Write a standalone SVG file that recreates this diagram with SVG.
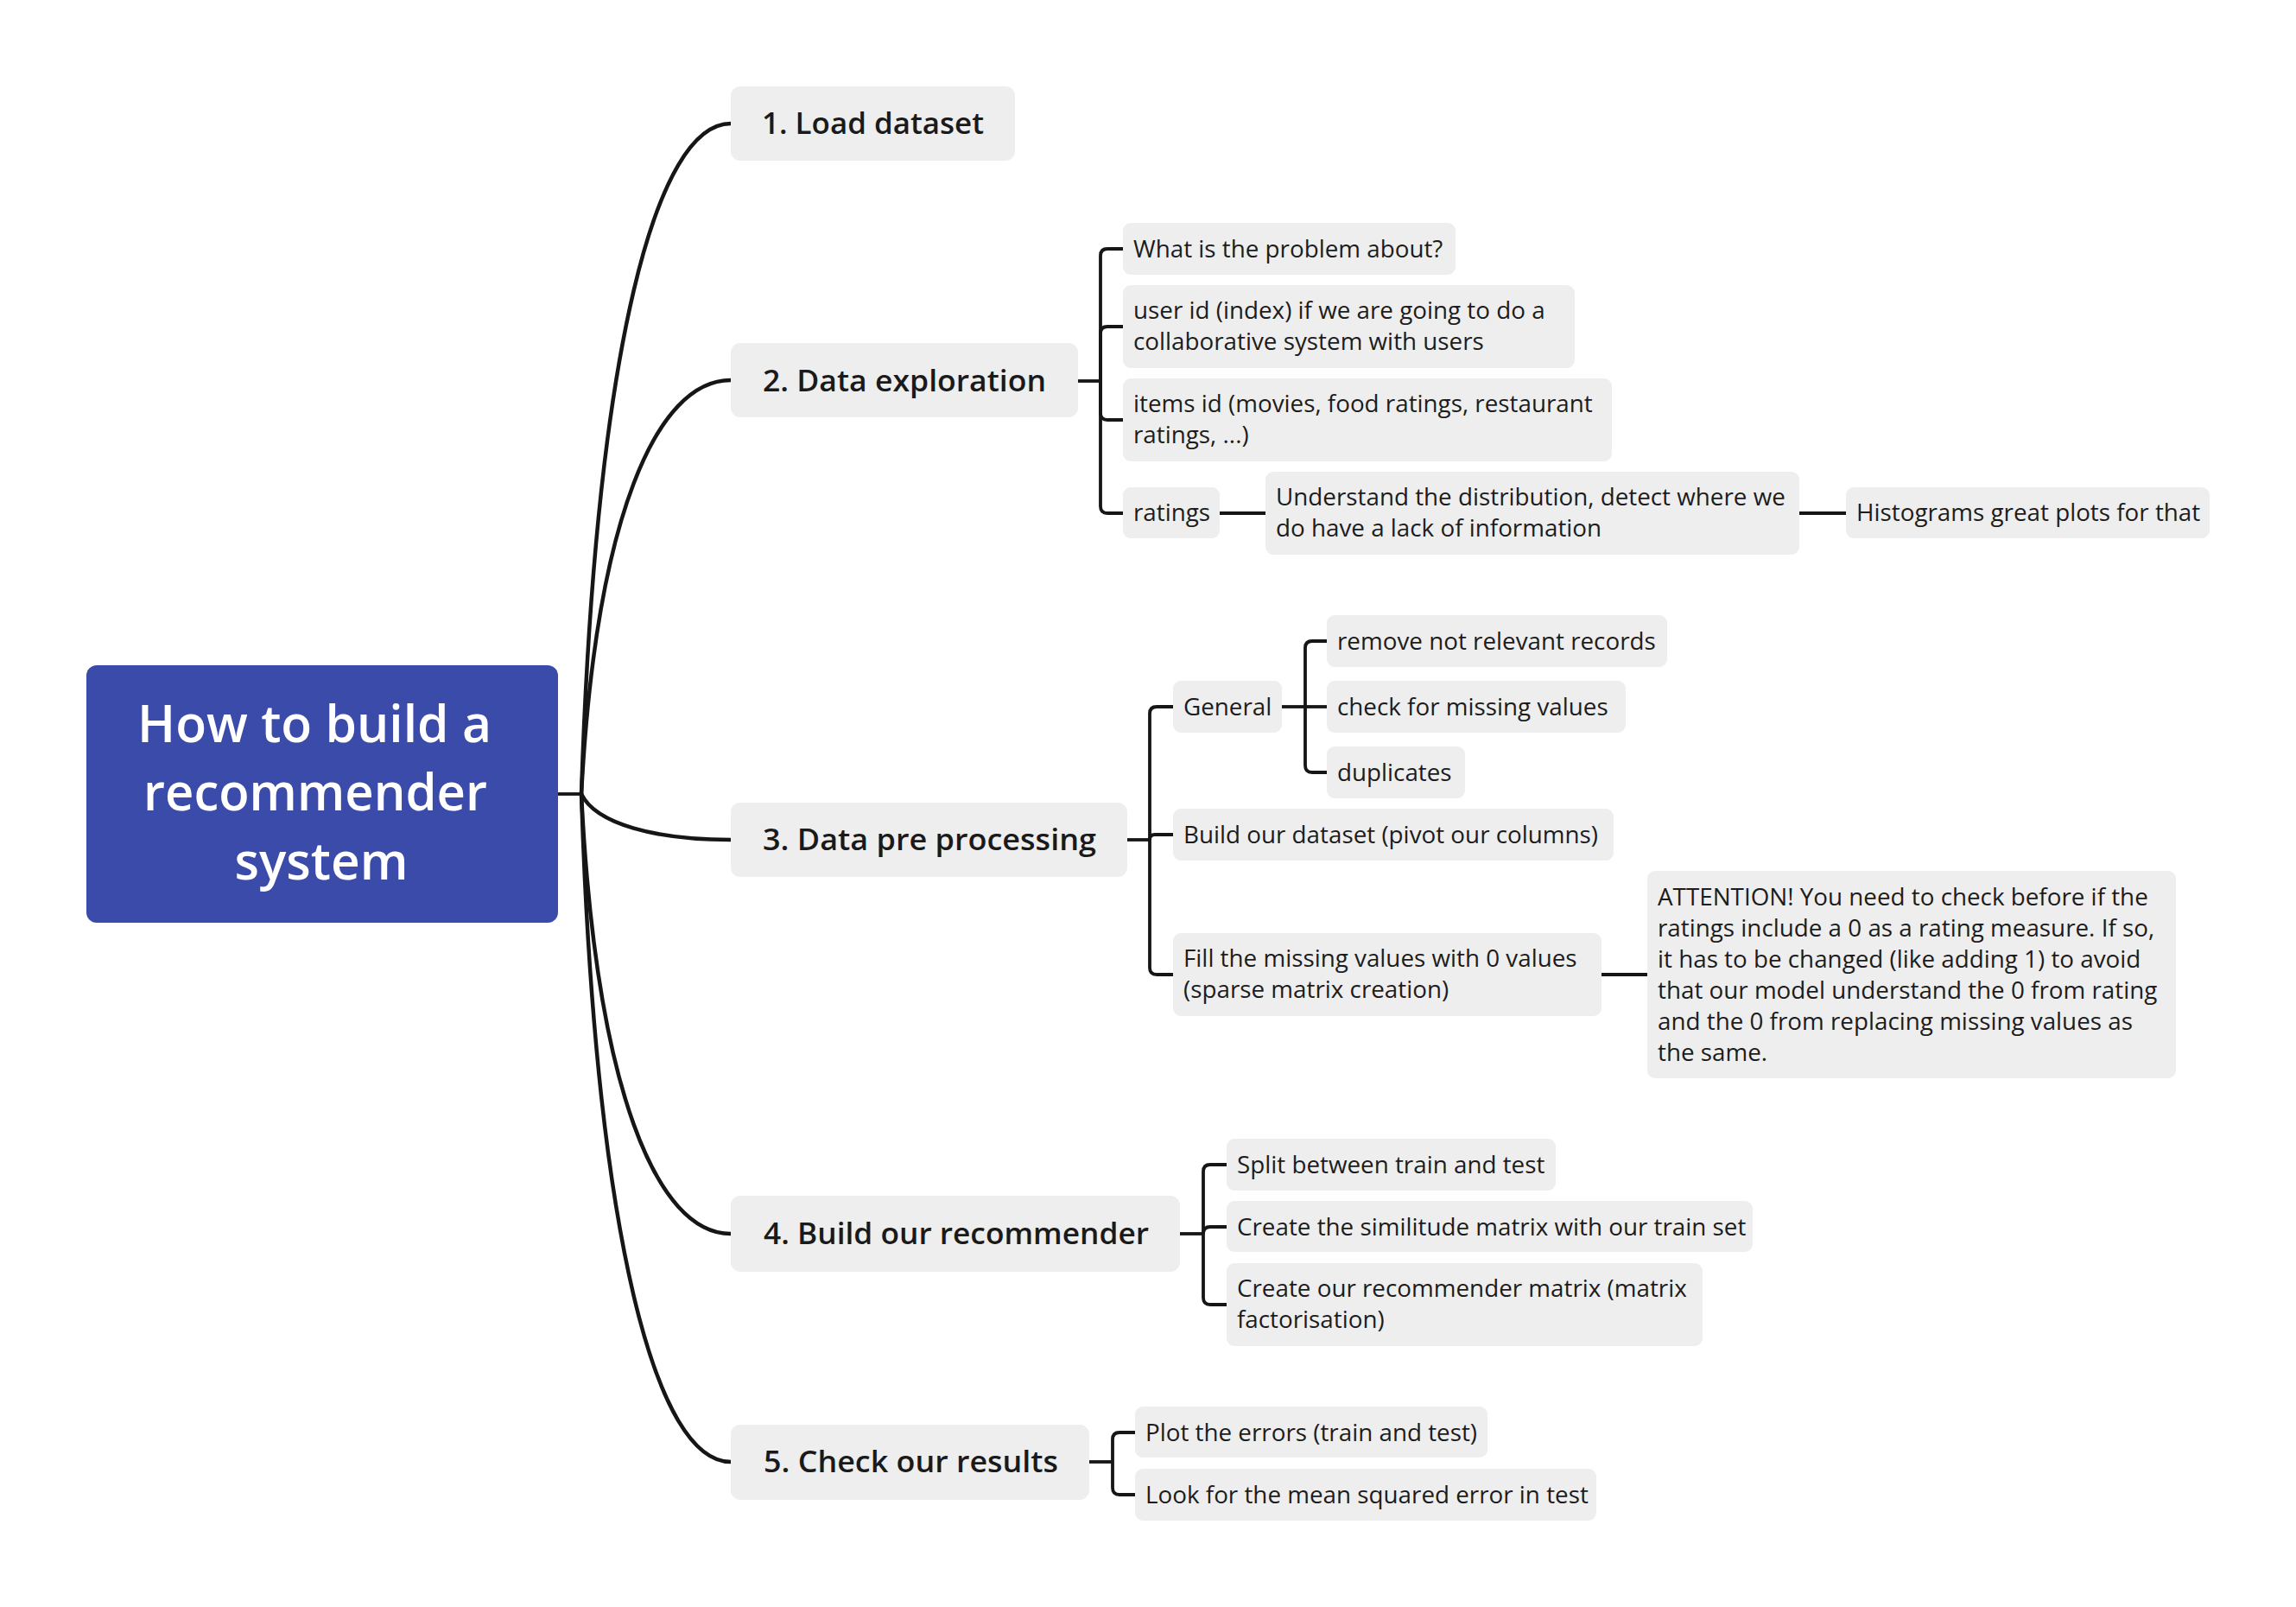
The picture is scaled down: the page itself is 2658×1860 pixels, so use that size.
<svg xmlns="http://www.w3.org/2000/svg" width="2658" height="1860" viewBox="0 0 2658 1860">
<style>
.root{fill:#3B4BAA}
.main{fill:#EEEEEE}
.sub{fill:#EEEEEE}
.rt{font-family:"Open Sans","Noto Sans","Liberation Sans",sans-serif;font-size:60px;font-weight:600;fill:#FFFFFF;text-anchor:middle}
.mt{font-family:"Open Sans","Noto Sans","Liberation Sans",sans-serif;font-size:35px;font-weight:600;fill:#1A1A1A}
.st{font-family:"Open Sans","Noto Sans","Liberation Sans",sans-serif;font-size:27.8px;fill:#1C1C1C}
.c{fill:none;stroke:#161616;stroke-width:4.5;stroke-linecap:round}
.b{fill:none;stroke:#161616;stroke-width:3.8}
</style>
<rect width="2658" height="1860" fill="#FFFFFF"/>
<g id="connectors">
<path class="b" d="M646,919 H673"/>
<path class="c" d="M673,919 C690,400 760,143 846,143"/>
<path class="c" d="M673,919 C690,599 760,440 846,440"/>
<path class="c" d="M673,919 C690,954 760,972 846,972"/>
<path class="c" d="M673,919 C690,1260 760,1428 846,1428"/>
<path class="c" d="M673,919 C690,1437 760,1692 846,1692"/>
<path class="b" d="M1248,441 H1274"/>
<path class="b" d="M1274,441 V296 Q1274,288 1282,288 H1300"/>
<path class="b" d="M1274,441 V386 Q1274,378 1282,378 H1300"/>
<path class="b" d="M1274,441 V478 Q1274,486 1282,486 H1300"/>
<path class="b" d="M1274,441 V586 Q1274,594 1282,594 H1300"/>
<path class="b" d="M1412,594 H1465"/>
<path class="b" d="M2083,594 H2137"/>
<path class="b" d="M1305,972 H1331"/>
<path class="b" d="M1331,972 V826 Q1331,818 1339,818 H1358"/>
<path class="b" d="M1331,972 Q1331,966 1337,966 H1358"/>
<path class="b" d="M1331,972 V1120 Q1331,1128 1339,1128 H1358"/>
<path class="b" d="M1484,818 H1511"/>
<path class="b" d="M1511,818 V750 Q1511,742 1519,742 H1536"/>
<path class="b" d="M1511,818 H1536"/>
<path class="b" d="M1511,818 V886 Q1511,894 1519,894 H1536"/>
<path class="b" d="M1854,1128 H1907"/>
<path class="b" d="M1366,1428 H1393"/>
<path class="b" d="M1393,1428 V1356 Q1393,1348 1401,1348 H1420"/>
<path class="b" d="M1393,1428 Q1393,1420 1401,1420 H1420"/>
<path class="b" d="M1393,1428 V1502 Q1393,1510 1401,1510 H1420"/>
<path class="b" d="M1261,1692 H1288"/>
<path class="b" d="M1288,1692 V1666 Q1288,1658 1296,1658 H1314"/>
<path class="b" d="M1288,1692 V1722 Q1288,1730 1296,1730 H1314"/>
</g>
<g id="root">
<rect class="root" x="100" y="770" width="546" height="298" rx="12"/>
<text class="rt" x="364" y="859" textLength="410" lengthAdjust="spacingAndGlyphs">How to build a</text>
<text class="rt" x="365" y="938" textLength="398" lengthAdjust="spacingAndGlyphs">recommender</text>
<text class="rt" x="372" y="1018" textLength="201" lengthAdjust="spacingAndGlyphs">system</text>
</g>
<g id="n1"><rect class="main" x="846" y="100" width="329" height="86" rx="11"/><text class="mt" x="882" y="155" textLength="257" lengthAdjust="spacingAndGlyphs">1. Load dataset</text></g>
<g id="n2"><rect class="main" x="846" y="397" width="402" height="86" rx="11"/><text class="mt" x="883" y="453" textLength="328" lengthAdjust="spacingAndGlyphs">2. Data exploration</text></g>
<g id="n3"><rect class="main" x="846" y="929" width="459" height="86" rx="11"/><text class="mt" x="883" y="984" textLength="386" lengthAdjust="spacingAndGlyphs">3. Data pre processing</text></g>
<g id="n4"><rect class="main" x="846" y="1384" width="520" height="88" rx="11"/><text class="mt" x="884" y="1440" textLength="446" lengthAdjust="spacingAndGlyphs">4. Build our recommender</text></g>
<g id="n5"><rect class="main" x="846" y="1649" width="415" height="87" rx="11"/><text class="mt" x="884" y="1704" textLength="341" lengthAdjust="spacingAndGlyphs">5. Check our results</text></g>
<g id="a1"><rect class="sub" x="1300" y="258" width="385" height="60" rx="9"/><text class="st" x="1312" y="298">What is the problem about?</text></g>
<g id="a2"><rect class="sub" x="1300" y="330" width="523" height="96" rx="9"/><text class="st" x="1312" y="369">user id (index) if we are going to do a</text><text class="st" x="1312" y="405">collaborative system with users</text></g>
<g id="a3"><rect class="sub" x="1300" y="438" width="566" height="96" rx="9"/><text class="st" x="1312" y="477">items id (movies, food ratings, restaurant</text><text class="st" x="1312" y="513">ratings, ...)</text></g>
<g id="a4"><rect class="sub" x="1300" y="564" width="112" height="59" rx="9"/><text class="st" x="1312" y="603">ratings</text></g>
<g id="a5"><rect class="sub" x="1465" y="546" width="618" height="96" rx="9"/><text class="st" x="1477" y="585">Understand the distribution, detect where we</text><text class="st" x="1477" y="621">do have a lack of information</text></g>
<g id="a6"><rect class="sub" x="2137" y="564" width="421" height="59" rx="9"/><text class="st" x="2149" y="603">Histograms great plots for that</text></g>
<g id="b1"><rect class="sub" x="1358" y="788" width="126" height="60" rx="9"/><text class="st" x="1370" y="828">General</text></g>
<g id="b2"><rect class="sub" x="1536" y="712" width="394" height="60" rx="9"/><text class="st" x="1548" y="752">remove not relevant records</text></g>
<g id="b3"><rect class="sub" x="1536" y="788" width="346" height="60" rx="9"/><text class="st" x="1548" y="828">check for missing values</text></g>
<g id="b4"><rect class="sub" x="1536" y="864" width="160" height="60" rx="9"/><text class="st" x="1548" y="904">duplicates</text></g>
<g id="b5"><rect class="sub" x="1358" y="936" width="510" height="60" rx="9"/><text class="st" x="1370" y="976">Build our dataset (pivot our columns)</text></g>
<g id="b6"><rect class="sub" x="1358" y="1080" width="496" height="96" rx="9"/><text class="st" x="1370" y="1119">Fill the missing values with 0 values</text><text class="st" x="1370" y="1155">(sparse matrix creation)</text></g>
<g id="b7"><rect class="sub" x="1907" y="1008" width="612" height="240" rx="9"/>
<text class="st" x="1919" y="1048">ATTENTION! You need to check before if the</text>
<text class="st" x="1919" y="1084">ratings include a 0 as a rating measure. If so,</text>
<text class="st" x="1919" y="1120">it has to be changed (like adding 1) to avoid</text>
<text class="st" x="1919" y="1156">that our model understand the 0 from rating</text>
<text class="st" x="1919" y="1192">and the 0 from replacing missing values as</text>
<text class="st" x="1919" y="1228">the same.</text></g>
<g id="c1"><rect class="sub" x="1420" y="1318" width="381" height="60" rx="9"/><text class="st" x="1432" y="1358">Split between train and test</text></g>
<g id="c2"><rect class="sub" x="1420" y="1390" width="609" height="59" rx="9"/><text class="st" x="1432" y="1430">Create the similitude matrix with our train set</text></g>
<g id="c3"><rect class="sub" x="1420" y="1462" width="551" height="96" rx="9"/><text class="st" x="1432" y="1501">Create our recommender matrix (matrix</text><text class="st" x="1432" y="1537">factorisation)</text></g>
<g id="d1"><rect class="sub" x="1314" y="1628" width="408" height="59" rx="9"/><text class="st" x="1326" y="1668">Plot the errors (train and test)</text></g>
<g id="d2"><rect class="sub" x="1314" y="1700" width="534" height="60" rx="9"/><text class="st" x="1326" y="1740">Look for the mean squared error in test</text></g>
</svg>
